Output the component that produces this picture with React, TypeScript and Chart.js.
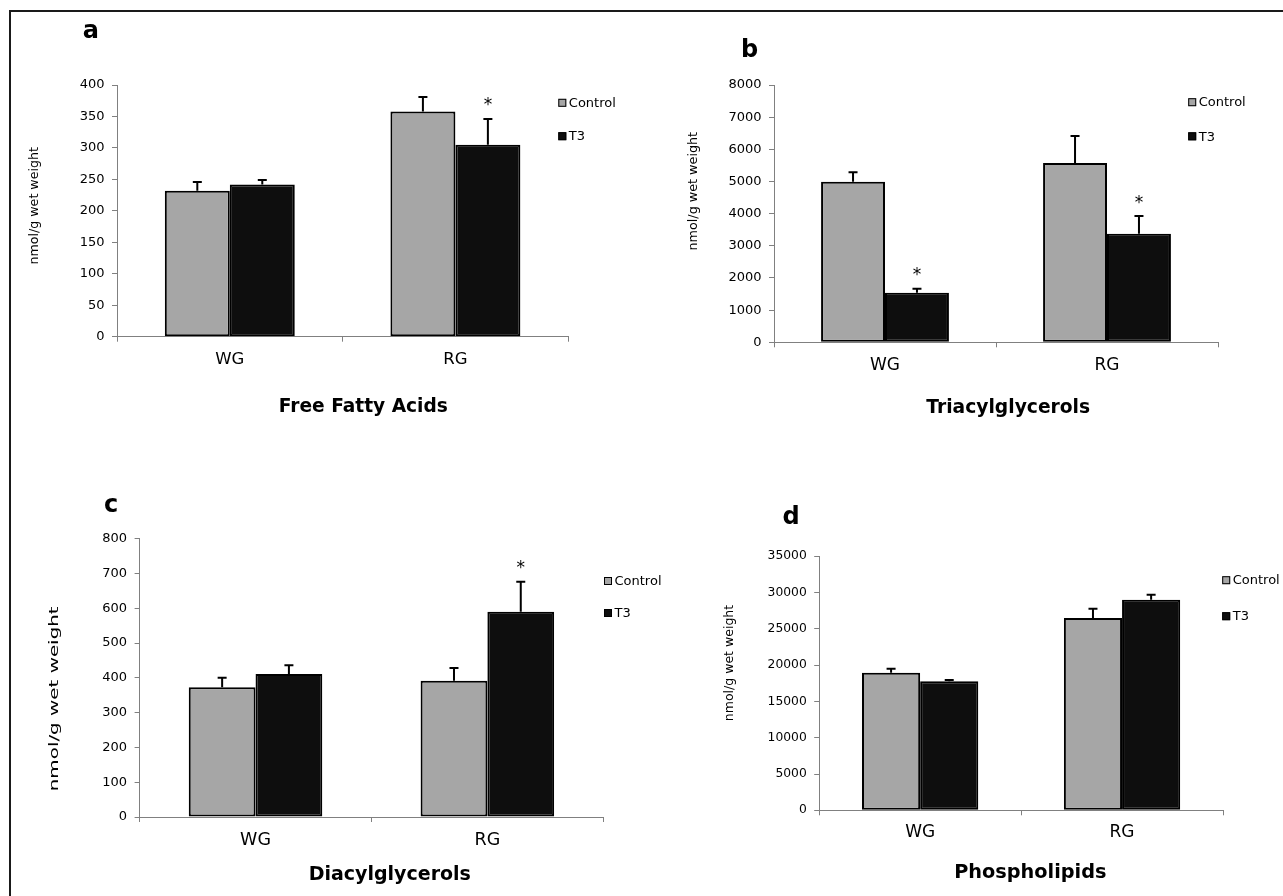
import React, { useEffect, useRef } from 'react';
import { Chart, registerables } from 'chart.js';

Chart.register(...registerables);

const FONT = "'DejaVu Sans', 'Liberation Sans', Arial, sans-serif";

// ---------- data ----------
const categories = ['WG', 'RG'];
const seriesLabels = ['Control', 'T3'];

// a – Free Fatty Acids
const ffaControl = [232, 358];
const ffaT3 = [242, 305];
const ffaControlErr = [14, 23];
const ffaT3Err = [7, 41];
const ffaStars = [[false, false], [false, true]];
const ffaTicks = [0, 50, 100, 150, 200, 250, 300, 350, 400];

// b – Triacylglycerols
const tagControl = [4990, 5575];
const tagT3 = [1540, 3375];
const tagControlErr = [295, 840];
const tagT3Err = [125, 550];
const tagStars = [[false, false], [true, true]];
const tagTicks = [0, 1000, 2000, 3000, 4000, 5000, 6000, 7000, 8000];

// c – Diacylglycerols
const dagControl = [373, 392];
const dagT3 = [411, 590];
const dagControlErr = [27, 36];
const dagT3Err = [25, 86];
const dagStars = [[false, false], [false, true]];
const dagTicks = [0, 100, 200, 300, 400, 500, 600, 700, 800];

// d – Phospholipids
const plControl = [18960, 26500];
const plT3 = [17780, 29020];
const plControlErr = [550, 1280];
const plT3Err = [180, 690];
const plStars = [[false, false], [false, false]];
const plTicks = [0, 5000, 10000, 15000, 20000, 25000, 30000, 35000];

const yTitle = 'nmol/g wet weight';

// ---------- layout / style ----------
const W = 1283;
const H = 896;
const COLORS = ['#a6a6a6', '#0e0e0e'];
const AXIS = '#808080';

type Panel = {
  letter: string;
  caption: string;
  values: number[][];
  errors: number[][];
  stars: boolean[][];
  ticks: number[];
  area: { l: number; r: number; t: number; b: number };
  letterPos: { x: number; y: number };
  captionPos: { x: number; y: number; size: number };
  yTitlePos: { x: number; y: number; stretch: number };
  legendPos: { x: number; ys: number[] };
  tickSize: number;
  xFont: number;
  xPad: number;
};

const panels: Panel[] = [
  {
    letter: 'a', caption: 'Free Fatty Acids',
    values: [ffaControl, ffaT3], errors: [ffaControlErr, ffaT3Err], stars: ffaStars, ticks: ffaTicks,
    area: { l: 117, r: 568.2, t: 85, b: 336.7 },
    letterPos: { x: 82.7, y: 38.3 },
    captionPos: { x: 363.3, y: 411.7, size: 18.6 },
    yTitlePos: { x: 34.7, y: 205.8, stretch: 1.01 },
    legendPos: { x: 558.3, ys: [102.8, 136.2] },
    tickSize: 13, xFont: 16.5, xPad: 7.9,
  },
  {
    letter: 'b', caption: 'Triacylglycerols',
    values: [tagControl, tagT3], errors: [tagControlErr, tagT3Err], stars: tagStars, ticks: tagTicks,
    area: { l: 774, r: 1218, t: 85, b: 342.3 },
    letterPos: { x: 741, y: 57.3 },
    captionPos: { x: 1008.2, y: 413.3, size: 18.7 },
    yTitlePos: { x: 693.3, y: 191.2, stretch: 1.02 },
    legendPos: { x: 1188.2, ys: [102.2, 136.3] },
    tickSize: 13, xFont: 17, xPad: 8.2,
  },
  {
    letter: 'c', caption: 'Diacylglycerols',
    values: [dagControl, dagT3], errors: [dagControlErr, dagT3Err], stars: dagStars, ticks: dagTicks,
    area: { l: 139.6, r: 603.3, t: 538.7, b: 817 },
    letterPos: { x: 104, y: 512 },
    captionPos: { x: 389.8, y: 879.7, size: 19 },
    yTitlePos: { x: 55, y: 698.8, stretch: 1.59 },
    legendPos: { x: 604, ys: [581, 613] },
    tickSize: 13, xFont: 17.5, xPad: 8.4,
  },
  {
    letter: 'd', caption: 'Phospholipids',
    values: [plControl, plT3], errors: [plControlErr, plT3Err], stars: plStars, ticks: plTicks,
    area: { l: 819.2, r: 1223, t: 556.3, b: 810.3 },
    letterPos: { x: 782.5, y: 524 },
    captionPos: { x: 1030.3, y: 878, size: 19.3 },
    yTitlePos: { x: 730.2, y: 663, stretch: 1.0 },
    legendPos: { x: 1222.2, ys: [580.2, 616.2] },
    tickSize: 12.3, xFont: 17, xPad: 7,
  },
];

const Y_AXIS_W = 60;
const X_AXIS_H = 40;

function makeAnnotPlugin(p: Panel) {
  return {
    id: 'annot-' + p.letter,
    afterDatasetsDraw(chart: any) {
      const ctx = chart.ctx as CanvasRenderingContext2D;
      const yScale = chart.scales.y;
      ctx.save();
      chart.data.datasets.forEach((ds: any, di: number) => {
        const meta = chart.getDatasetMeta(di);
        meta.data.forEach((bar: any, i: number) => {
          const v = ds.data[i] as number;
          const e = p.errors[di][i];
          const top = yScale.getPixelForValue(v + e);
          ctx.strokeStyle = '#000';
          ctx.lineWidth = 2;
          ctx.beginPath();
          ctx.moveTo(bar.x, bar.y);
          ctx.lineTo(bar.x, top);
          ctx.moveTo(bar.x - 4.5, top);
          ctx.lineTo(bar.x + 4.5, top);
          ctx.stroke();
          if (p.stars[di][i]) {
            const size = 17;
            ctx.fillStyle = '#000';
            ctx.font = `${size}px ${FONT}`;
            ctx.textAlign = 'center';
            ctx.textBaseline = 'alphabetic';
            ctx.fillText('*', bar.x, top - 18 + 0.56 * size);
          }
        });
      });
      ctx.restore();
    },
    afterDraw(chart: any) {
      const ctx = chart.ctx as CanvasRenderingContext2D;
      ctx.save();
      // legend
      ctx.font = `13px ${FONT}`;
      chart.data.datasets.forEach((ds: any, di: number) => {
        const cy = p.legendPos.ys[di];
        const x = p.legendPos.x;
        ctx.fillStyle = ds.backgroundColor;
        ctx.fillRect(x, cy - 4, 8, 8);
        ctx.strokeStyle = '#000';
        ctx.lineWidth = 1;
        ctx.strokeRect(x + 0.5, cy - 3.5, 7, 7);
        ctx.fillStyle = '#000';
        ctx.textAlign = 'left';
        ctx.textBaseline = 'middle';
        ctx.fillText(ds.label, x + 10.5, cy + 0.9);
      });
      // panel letter
      ctx.font = `bold 24px ${FONT}`;
      ctx.fillStyle = '#000';
      ctx.textAlign = 'left';
      ctx.textBaseline = 'alphabetic';
      ctx.fillText(p.letter, p.letterPos.x, p.letterPos.y);
      // caption
      ctx.font = `bold ${p.captionPos.size}px ${FONT}`;
      ctx.textAlign = 'center';
      ctx.fillText(p.caption, p.captionPos.x, p.captionPos.y);
      // y-axis title
      ctx.translate(p.yTitlePos.x, p.yTitlePos.y);
      ctx.rotate(-Math.PI / 2);
      ctx.scale(p.yTitlePos.stretch, 1);
      ctx.font = `12.5px ${FONT}`;
      ctx.textAlign = 'center';
      ctx.textBaseline = 'middle';
      ctx.fillText(yTitle, 0, 0);
      ctx.restore();
    },
  };
}

function ChartPanel({ p }: { p: Panel }) {
  const ref = useRef<HTMLCanvasElement | null>(null);
  useEffect(() => {
    if (!ref.current) return;
    const t = p.ticks;
    const chart = new Chart(ref.current, {
      type: 'bar',
      data: {
        labels: categories,
        datasets: seriesLabels.map((label, di) => ({
          label,
          data: p.values[di],
          backgroundColor: COLORS[di],
          borderColor: '#000',
          borderWidth: 2,
          borderSkipped: false,
          barPercentage: 1,
          categoryPercentage: 0.576,
        })),
      },
      options: {
        responsive: false,
        animation: false,
        devicePixelRatio: 1,
        events: [],
        layout: {
          padding: {
            left: p.area.l - Y_AXIS_W,
            right: W - p.area.r,
            top: p.area.t,
            bottom: H - p.area.b - X_AXIS_H,
          },
        },
        plugins: {
          legend: { display: false },
          title: { display: false },
          tooltip: { enabled: false },
        },
        scales: {
          x: {
            type: 'category',
            offset: true,
            grid: {
              offset: true,
              drawOnChartArea: false,
              drawTicks: true,
              tickLength: 5,
              color: AXIS,
              lineWidth: 1,
            },
            border: { display: true, color: AXIS, width: 1 },
            ticks: {
              color: '#000',
              font: { family: FONT, size: p.xFont },
              padding: p.xPad,
              maxRotation: 0,
              autoSkip: false,
            },
            afterFit: (s: any) => { s.height = X_AXIS_H; },
          },
          y: {
            type: 'linear',
            min: t[0],
            max: t[t.length - 1],
            grid: {
              drawOnChartArea: false,
              drawTicks: true,
              tickLength: 5,
              color: AXIS,
              lineWidth: 1,
            },
            border: { display: true, color: AXIS, width: 1 },
            ticks: {
              stepSize: t[1] - t[0],
              color: '#000',
              font: { family: FONT, size: p.tickSize },
              padding: 7.5,
              callback: (v: any) => String(v),
            },
            afterFit: (s: any) => { s.width = Y_AXIS_W; },
          },
        },
      } as any,
      plugins: [makeAnnotPlugin(p)],
    });
    return () => chart.destroy();
  }, [p]);
  return (
    <canvas
      ref={ref}
      width={W}
      height={H}
      style={{ position: 'absolute', left: 0, top: 0, width: W, height: H }}
    />
  );
}

export default function App() {
  return (
    <div
      style={{
        position: 'fixed',
        left: 0,
        top: 0,
        width: W,
        height: H,
        background: '#fff',
        overflow: 'hidden',
      }}
    >
      <div
        style={{
          position: 'absolute',
          left: 9,
          top: 10,
          width: W,
          height: H,
          borderTop: '2px solid #1a1a1a',
          borderLeft: '2px solid #1a1a1a',
          boxSizing: 'border-box',
        }}
      />
      {panels.map((p) => (
        <ChartPanel key={p.letter} p={p} />
      ))}
    </div>
  );
}
